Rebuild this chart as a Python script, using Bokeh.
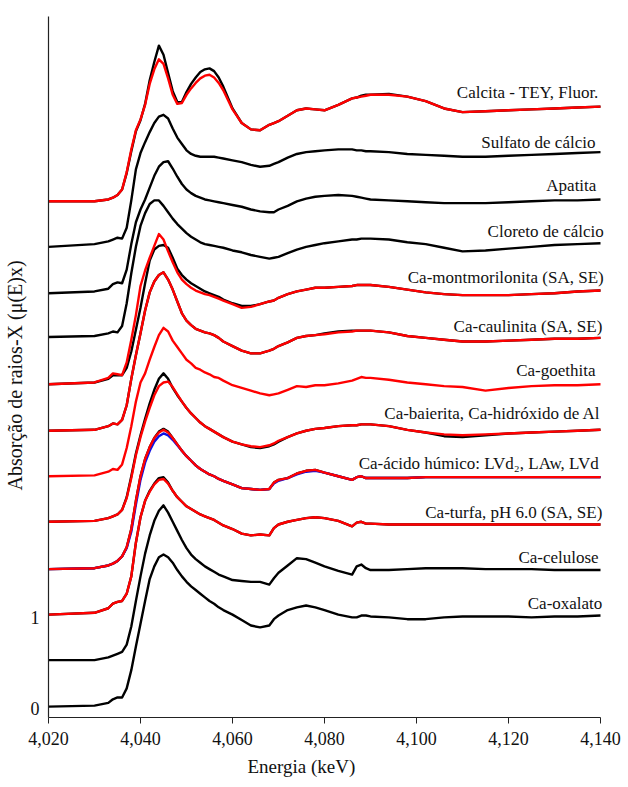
from bokeh.plotting import figure
from bokeh.models import Range1d, FixedTicker, NumeralTickFormatter, Label, Title
from bokeh.embed import file_html
from bokeh.resources import INLINE

# Energy grid (eV) shared by every Ca K-edge XANES spectrum
energy = [4020, 4030, 4033, 4034, 4035, 4036, 4037, 4038, 4039, 4040,
          4041, 4042, 4043, 4044, 4045, 4046, 4047, 4048, 4049, 4050,
          4051, 4052, 4053, 4054, 4055, 4056, 4057, 4058, 4060, 4062,
          4064, 4066, 4068, 4069, 4070, 4072, 4074, 4076, 4078, 4080,
          4083, 4086, 4087, 4088, 4089, 4090, 4094, 4098, 4102, 4106,
          4110, 4115, 4120, 4125, 4130, 4135, 4140]

# Normalised absorption of each reference compound
calcita_tey = [0.07, 0.07, 0.09, 0.11, 0.14, 0.20, 0.38, 0.62, 0.84, 0.96,
               1.14, 1.40, 1.60, 1.78, 1.68, 1.48, 1.28, 1.16, 1.16, 1.27,
               1.36, 1.43, 1.49, 1.52, 1.53, 1.50, 1.43, 1.33, 1.09, 0.93,
               0.86, 0.85, 0.91, 0.93, 0.95, 1.01, 1.07, 1.09, 1.08, 1.07,
               1.13, 1.20, 1.21, 1.23, 1.24, 1.24, 1.25, 1.22, 1.17, 1.09,
               1.05, 1.06, 1.07, 1.08, 1.09, 1.10, 1.11]
calcita_fluor = [0.07, 0.07, 0.09, 0.11, 0.14, 0.20, 0.39, 0.64, 0.85, 0.97,
                 1.13, 1.36, 1.52, 1.63, 1.58, 1.42, 1.24, 1.14, 1.15, 1.24,
                 1.31, 1.37, 1.42, 1.45, 1.46, 1.43, 1.37, 1.29, 1.08, 0.93,
                 0.86, 0.85, 0.91, 0.93, 0.95, 1.01, 1.07, 1.09, 1.08, 1.07,
                 1.13, 1.20, 1.21, 1.22, 1.23, 1.24, 1.24, 1.22, 1.17, 1.09,
                 1.05, 1.06, 1.07, 1.08, 1.09, 1.10, 1.11]
sulfato = [0.07, 0.10, 0.13, 0.15, 0.17, 0.16, 0.28, 0.58, 0.92, 1.10,
           1.22, 1.33, 1.43, 1.50, 1.52, 1.48, 1.37, 1.27, 1.20, 1.13,
           1.09, 1.07, 1.06, 1.06, 1.06, 1.06, 1.05, 1.04, 1.02, 1.00,
           0.97, 0.95, 0.96, 0.98, 1.00, 1.05, 1.09, 1.11, 1.12, 1.13,
           1.14, 1.14, 1.13, 1.13, 1.12, 1.12, 1.11, 1.09, 1.08, 1.07,
           1.06, 1.06, 1.07, 1.08, 1.09, 1.10, 1.11]
apatita = [0.06, 0.08, 0.11, 0.16, 0.18, 0.17, 0.32, 0.60, 0.84, 0.98,
           1.09, 1.22, 1.35, 1.45, 1.50, 1.51, 1.43, 1.34, 1.26, 1.20,
           1.16, 1.13, 1.11, 1.09, 1.08, 1.07, 1.06, 1.05, 1.03, 1.01,
           0.98, 0.96, 0.95, 0.95, 0.98, 1.02, 1.07, 1.10, 1.12, 1.13,
           1.14, 1.13, 1.12, 1.11, 1.10, 1.09, 1.08, 1.07, 1.06, 1.05,
           1.05, 1.05, 1.06, 1.07, 1.08, 1.08, 1.09]
cloreto = [0.08, 0.09, 0.12, 0.14, 0.13, 0.20, 0.45, 0.78, 1.07, 1.30,
           1.44, 1.54, 1.58, 1.58, 1.52, 1.45, 1.38, 1.32, 1.27, 1.22,
           1.18, 1.15, 1.12, 1.10, 1.09, 1.08, 1.07, 1.06, 1.03, 1.01,
           0.98, 0.96, 0.94, 0.95, 0.96, 1.00, 1.04, 1.07, 1.09, 1.11,
           1.13, 1.15, 1.15, 1.16, 1.16, 1.16, 1.15, 1.12, 1.10, 1.06,
           1.02, 1.03, 1.05, 1.07, 1.09, 1.10, 1.11]
montmor_sa = [0.06, 0.08, 0.12, 0.16, 0.16, 0.16, 0.24, 0.42, 0.66, 0.90,
              1.17, 1.42, 1.54, 1.58, 1.59, 1.56, 1.45, 1.33, 1.26, 1.21,
              1.17, 1.14, 1.11, 1.08, 1.06, 1.04, 1.02, 0.99, 0.95, 0.92,
              0.92, 0.94, 0.97, 0.98, 1.01, 1.05, 1.08, 1.10, 1.12, 1.12,
              1.13, 1.14, 1.15, 1.15, 1.15, 1.15, 1.13, 1.10, 1.07, 1.05,
              1.04, 1.04, 1.04, 1.05, 1.06, 1.08, 1.09]
montmor_se = [0.06, 0.08, 0.13, 0.18, 0.17, 0.16, 0.30, 0.55, 0.82, 1.14,
              1.31, 1.45, 1.58, 1.71, 1.65, 1.52, 1.40, 1.29, 1.21, 1.16,
              1.12, 1.09, 1.07, 1.05, 1.04, 1.02, 1.00, 0.98, 0.94, 0.90,
              0.91, 0.94, 0.97, 0.98, 1.01, 1.05, 1.08, 1.10, 1.12, 1.12,
              1.13, 1.14, 1.15, 1.15, 1.15, 1.15, 1.13, 1.10, 1.07, 1.05,
              1.04, 1.04, 1.04, 1.05, 1.06, 1.08, 1.09]
caulinita_sa = [0.05, 0.06, 0.10, 0.13, 0.12, 0.17, 0.33, 0.62, 0.88, 1.12,
                1.37, 1.57, 1.69, 1.76, 1.79, 1.71, 1.60, 1.47, 1.34, 1.26,
                1.21, 1.17, 1.15, 1.13, 1.12, 1.10, 1.07, 1.03, 0.98, 0.93,
                0.90, 0.90, 0.93, 0.95, 0.98, 1.02, 1.07, 1.09, 1.10, 1.12,
                1.14, 1.15, 1.15, 1.15, 1.15, 1.15, 1.13, 1.09, 1.07, 1.05,
                1.03, 1.03, 1.04, 1.05, 1.06, 1.06, 1.07]
caulinita_se = [0.05, 0.06, 0.10, 0.13, 0.12, 0.17, 0.33, 0.62, 0.88, 1.12,
                1.37, 1.57, 1.69, 1.76, 1.79, 1.71, 1.60, 1.47, 1.34, 1.26,
                1.21, 1.17, 1.15, 1.13, 1.12, 1.10, 1.07, 1.03, 0.98, 0.93,
                0.90, 0.90, 0.93, 0.95, 0.98, 1.02, 1.07, 1.09, 1.10, 1.11,
                1.13, 1.14, 1.15, 1.15, 1.15, 1.15, 1.13, 1.09, 1.07, 1.05,
                1.03, 1.03, 1.04, 1.05, 1.06, 1.06, 1.07]
goethita = [0.05, 0.06, 0.10, 0.13, 0.12, 0.18, 0.36, 0.60, 0.87, 1.08,
            1.18, 1.33, 1.47, 1.60, 1.68, 1.64, 1.54, 1.47, 1.40, 1.33,
            1.29, 1.24, 1.22, 1.19, 1.17, 1.14, 1.13, 1.10, 1.05, 1.02,
            0.99, 0.96, 0.94, 0.95, 0.96, 1.00, 1.04, 1.03, 1.05, 1.05,
            1.07, 1.10, 1.12, 1.14, 1.13, 1.13, 1.11, 1.08, 1.06, 1.04,
            1.03, 0.99, 1.02, 1.04, 1.05, 1.05, 1.06]
baierita = [0.05, 0.06, 0.09, 0.11, 0.13, 0.18, 0.32, 0.55, 0.80, 1.00,
            1.18, 1.35, 1.50, 1.62, 1.68, 1.62, 1.52, 1.44, 1.37, 1.30,
            1.24, 1.19, 1.14, 1.10, 1.07, 1.04, 1.01, 0.98, 0.93, 0.90,
            0.87, 0.86, 0.88, 0.90, 0.93, 0.98, 1.02, 1.05, 1.07, 1.08,
            1.10, 1.11, 1.11, 1.12, 1.12, 1.12, 1.10, 1.06, 1.03, 0.99,
            0.98, 1.00, 1.02, 1.03, 1.04, 1.05, 1.06]
hidroxido_al = [0.05, 0.06, 0.09, 0.11, 0.13, 0.18, 0.31, 0.53, 0.78, 0.98,
                1.15, 1.30, 1.44, 1.54, 1.58, 1.59, 1.53, 1.45, 1.37, 1.30,
                1.24, 1.19, 1.14, 1.10, 1.07, 1.04, 1.01, 0.98, 0.93, 0.90,
                0.88, 0.87, 0.89, 0.91, 0.94, 0.98, 1.02, 1.05, 1.07, 1.08,
                1.10, 1.11, 1.11, 1.12, 1.12, 1.12, 1.10, 1.06, 1.03, 1.01,
                1.00, 1.01, 1.02, 1.03, 1.04, 1.05, 1.06]
humico_lvd2 = [0.03, 0.04, 0.07, 0.09, 0.12, 0.17, 0.27, 0.47, 0.78, 1.05,
               1.24, 1.37, 1.47, 1.54, 1.57, 1.54, 1.47, 1.40, 1.33, 1.27,
               1.22, 1.17, 1.13, 1.10, 1.07, 1.05, 1.02, 1.00, 0.96, 0.92,
               0.91, 0.90, 0.91, 0.98, 1.01, 1.03, 1.08, 1.11, 1.12, 1.09,
               1.05, 1.01, 1.04, 1.05, 1.03, 1.03, 1.03, 1.03, 1.04, 1.04,
               1.04, 1.04, 1.04, 1.04, 1.04, 1.04, 1.04]
humico_law = [0.03, 0.04, 0.07, 0.09, 0.12, 0.17, 0.26, 0.44, 0.74, 1.01,
              1.20, 1.33, 1.43, 1.49, 1.52, 1.50, 1.45, 1.39, 1.33, 1.27,
              1.22, 1.17, 1.13, 1.10, 1.07, 1.05, 1.02, 1.00, 0.96, 0.92,
              0.91, 0.90, 0.91, 0.97, 1.00, 1.03, 1.07, 1.10, 1.11, 1.09,
              1.05, 1.01, 1.04, 1.05, 1.03, 1.03, 1.03, 1.03, 1.04, 1.04,
              1.04, 1.04, 1.04, 1.04, 1.04, 1.04, 1.04]
humico_lvd = [0.03, 0.04, 0.07, 0.09, 0.12, 0.17, 0.27, 0.47, 0.78, 1.05,
              1.24, 1.37, 1.47, 1.53, 1.56, 1.53, 1.47, 1.40, 1.33, 1.27,
              1.22, 1.17, 1.13, 1.10, 1.07, 1.05, 1.02, 1.00, 0.96, 0.92,
              0.91, 0.90, 0.91, 0.98, 1.01, 1.03, 1.08, 1.11, 1.12, 1.09,
              1.05, 1.01, 1.04, 1.05, 1.03, 1.03, 1.03, 1.03, 1.04, 1.04,
              1.04, 1.04, 1.04, 1.04, 1.04, 1.04, 1.04]
turfa_sa = [0.03, 0.05, 0.10, 0.15, 0.17, 0.18, 0.26, 0.45, 0.82, 1.10,
            1.28, 1.39, 1.47, 1.53, 1.54, 1.48, 1.39, 1.32, 1.27, 1.22,
            1.19, 1.16, 1.13, 1.11, 1.09, 1.07, 1.04, 1.01, 0.97, 0.92,
            0.90, 0.91, 0.90, 0.98, 1.02, 1.05, 1.07, 1.09, 1.10, 1.09,
            1.06, 1.00, 1.04, 1.05, 1.03, 1.03, 1.02, 1.02, 1.02, 1.02,
            1.02, 1.02, 1.02, 1.02, 1.02, 1.02, 1.02]
turfa_se = [0.03, 0.05, 0.10, 0.15, 0.17, 0.18, 0.26, 0.45, 0.82, 1.10,
            1.28, 1.38, 1.46, 1.51, 1.52, 1.47, 1.39, 1.32, 1.27, 1.22,
            1.19, 1.16, 1.13, 1.11, 1.09, 1.07, 1.04, 1.01, 0.97, 0.92,
            0.90, 0.91, 0.90, 0.98, 1.02, 1.05, 1.07, 1.09, 1.10, 1.09,
            1.06, 1.00, 1.04, 1.05, 1.03, 1.03, 1.02, 1.02, 1.02, 1.02,
            1.02, 1.02, 1.02, 1.02, 1.02, 1.02, 1.02]
celulose = [0.03, 0.03, 0.06, 0.08, 0.10, 0.12, 0.20, 0.40, 0.68, 0.95,
            1.20, 1.40, 1.56, 1.67, 1.73, 1.65, 1.55, 1.45, 1.35, 1.26,
            1.19, 1.14, 1.10, 1.06, 1.03, 1.00, 0.97, 0.95, 0.91, 0.90,
            0.89, 0.89, 0.86, 0.93, 0.99, 1.07, 1.15, 1.14, 1.10, 1.06,
            1.01, 0.97, 1.06, 1.08, 1.04, 1.02, 1.02, 1.03, 1.04, 1.04,
            1.04, 1.03, 1.03, 1.03, 1.02, 1.02, 1.02]
oxalato = [0.02, 0.03, 0.06, 0.10, 0.12, 0.12, 0.22, 0.42, 0.68, 0.93,
           1.18, 1.42, 1.56, 1.66, 1.69, 1.66, 1.60, 1.52, 1.45, 1.39,
           1.34, 1.30, 1.26, 1.22, 1.18, 1.15, 1.11, 1.08, 1.03, 0.97,
           0.91, 0.89, 0.91, 0.98, 1.02, 1.08, 1.11, 1.13, 1.11, 1.08,
           1.03, 1.00, 1.00, 1.02, 1.02, 1.01, 1.00, 0.98, 0.98, 1.00,
           1.01, 1.01, 1.01, 1.00, 1.01, 1.01, 1.02]

# Vertical spacing between stacked spectra
stack_step = 0.5
labels = ["Ca-oxalato", "Ca-celulose", "Ca-turfa, pH 6.0 (SA, SE)",
          "Ca-ácido húmico: LVd\u2082, LAw, LVd",
          "Ca-baierita, Ca-hidróxido de Al", "Ca-goethita",
          "Ca-caulinita (SA, SE)", "Ca-montmorilonita (SA, SE)",
          "Cloreto de cálcio", "Apatita", "Sulfato de cálcio",
          "Calcita - TEY, Fluor."]
label_x = [4140.4, 4139.6, 4140.4, 4139.6, 4140.0, 4138.9,
           4140.4, 4140.7, 4140.7, 4139.1, 4138.9, 4139.6]
label_y = [1.15, 1.66, 2.15, 2.69, 3.24, 3.71,
           4.20, 4.73, 5.24, 5.74, 6.22, 6.76]

# (values, stack index, colour) in drawing order
traces = [
    (oxalato, 0, "black"),
    (celulose, 1, "black"),
    (turfa_sa, 2, "black"), (turfa_se, 2, "red"),
    (humico_lvd2, 3, "black"), (humico_law, 3, "blue"), (humico_lvd, 3, "red"),
    (baierita, 4, "black"), (hidroxido_al, 4, "red"),
    (goethita, 5, "red"),
    (caulinita_sa, 6, "black"), (caulinita_se, 6, "red"),
    (montmor_sa, 7, "black"), (montmor_se, 7, "red"),
    (cloreto, 8, "black"),
    (apatita, 9, "black"),
    (sulfato, 10, "black"),
    (calcita_tey, 11, "black"), (calcita_fluor, 11, "red"),
]

serif = "Liberation Serif"
e_min, e_max = 4020, 4140

# The frame runs a little past the last tick so the right-aligned labels fit;
# the axis itself is bounded to the energy range.
p = figure(width=628, height=787, output_backend="svg", toolbar_location=None,
           x_range=Range1d(e_min, e_max + 28 / 4.6), y_range=Range1d(-0.1, 7.6),
           min_border_left=48, min_border_right=0,
           min_border_top=16, min_border_bottom=70)
p.outline_line_color = None
p.background_fill_color = "white"
p.border_fill_color = "white"
p.grid.visible = False

colour_map = {"black": "#000000", "red": "#ff0000", "blue": "#1010e0"}
for vals, k, col in traces:
    p.line(energy, [v + k * stack_step for v in vals],
           line_color=colour_map[col], line_width=2.4, line_join="round")

for txt, lx, ly in zip(labels, label_x, label_y):
    p.add_layout(Label(x=lx, y=ly, text=txt, text_align="right",
                       text_baseline="middle", text_font=serif,
                       text_font_size="17px", text_color="#111111"))

# x axis
xa = p.xaxis[0]
xa.bounds = (e_min, e_max)
xa.ticker = FixedTicker(ticks=[4020, 4040, 4060, 4080, 4100, 4120, 4140])
xa.formatter = NumeralTickFormatter(format="0,0")
xa.major_tick_out = 6
xa.major_tick_in = 0
xa.minor_tick_out = 0
xa.minor_tick_in = 0
xa.major_label_standoff = 8

# y axis
ya = p.yaxis[0]
ya.ticker = FixedTicker(ticks=[0, 1])
ya.major_tick_out = 0
ya.major_tick_in = 0
ya.minor_tick_out = 0
ya.minor_tick_in = 0
ya.major_label_standoff = 9

for ax in (xa, ya):
    ax.axis_line_color = "#222222"
    ax.axis_line_width = 1.2
    ax.major_tick_line_color = "#222222"
    ax.major_label_text_font = serif
    ax.major_label_text_font_size = "18px"
    ax.major_label_text_color = "#111111"

# Axis titles, placed from the start of the frame edge
p.add_layout(Title(text="Energia (keV)", align="left", offset=199,
                   standoff=12, text_font=serif, text_font_size="19px",
                   text_font_style="normal", text_color="#111111"), "below")
p.add_layout(Title(text="Absorção de raios-X (μ(E)x)", align="left",
                   offset=227, standoff=3, text_font=serif,
                   text_font_size="20px", text_font_style="normal",
                   text_color="#111111"), "left")

open("out.html", "w").write(file_html(p, INLINE))
